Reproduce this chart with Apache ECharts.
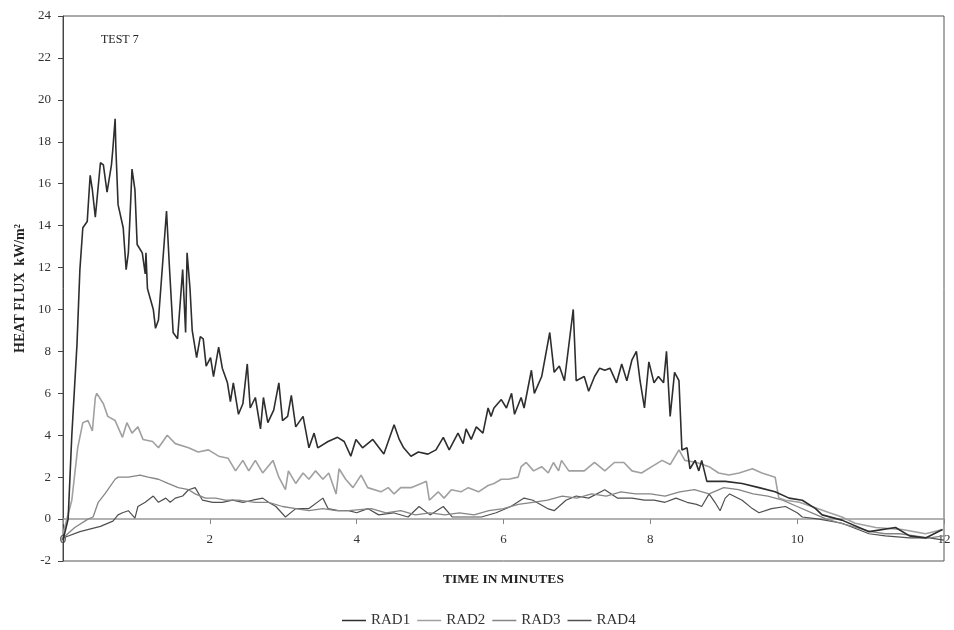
<!DOCTYPE html>
<html>
<head>
<meta charset="utf-8">
<script src="https://cdn.jsdelivr.net/npm/echarts@6/dist/echarts.min.js"></script>
<style>
html,body{margin:0;padding:0;background:#fff;}
#chart{width:954px;height:630px;}
</style>
</head>
<body>
<div id="chart"></div>
<script>
// ---- data (time in minutes, heat flux kW/m2) ----
const seriesNames = ['RAD1', 'RAD2', 'RAD3', 'RAD4'];
const xTicks = [0, 2, 4, 6, 8, 10, 12];
const yTicks = [-2, 0, 2, 4, 6, 8, 10, 12, 14, 16, 18, 20, 22, 24];

const rad1 = [[0,-1],[0.07,0],[0.12,4],[0.19,8.3],[0.23,11.9],[0.27,13.9],[0.33,14.2],[0.37,16.4],[0.40,15.7],[0.44,14.4],[0.51,17.0],[0.55,16.9],[0.60,15.6],[0.66,16.9],[0.68,17.7],[0.71,19.1],[0.72,17.7],[0.75,15.0],[0.82,13.9],[0.86,11.9],[0.89,12.7],[0.92,15.0],[0.94,16.7],[0.98,15.7],[1.01,13.1],[1.08,12.7],[1.12,11.7],[1.13,12.7],[1.15,11.0],[1.19,10.5],[1.23,10.0],[1.26,9.1],[1.30,9.5],[1.37,12.8],[1.41,14.7],[1.45,12.0],[1.50,8.9],[1.56,8.6],[1.63,11.9],[1.67,8.9],[1.69,12.7],[1.73,11.0],[1.76,9.0],[1.82,7.7],[1.87,8.7],[1.91,8.6],[1.95,7.3],[2.01,7.7],[2.05,6.8],[2.12,8.2],[2.17,7.2],[2.24,6.5],[2.28,5.6],[2.32,6.5],[2.39,5.0],[2.45,5.5],[2.51,7.4],[2.55,5.3],[2.62,5.8],[2.69,4.3],[2.73,5.8],[2.79,4.6],[2.87,5.2],[2.94,6.5],[2.99,4.7],[3.06,4.9],[3.11,5.9],[3.17,4.4],[3.27,4.9],[3.35,3.4],[3.42,4.1],[3.47,3.4],[3.61,3.7],[3.74,3.9],[3.83,3.7],[3.92,3.0],[3.99,3.8],[4.08,3.4],[4.22,3.8],[4.37,3.1],[4.51,4.5],[4.58,3.8],[4.64,3.4],[4.74,3.0],[4.84,3.2],[4.97,3.1],[5.08,3.3],[5.18,3.9],[5.26,3.3],[5.38,4.1],[5.45,3.6],[5.49,4.3],[5.56,3.8],[5.63,4.4],[5.72,4.1],[5.79,5.3],[5.83,4.9],[5.87,5.3],[5.97,5.7],[6.04,5.3],[6.11,6.0],[6.15,5.0],[6.24,5.8],[6.28,5.3],[6.38,7.1],[6.42,6.0],[6.52,6.8],[6.63,8.9],[6.69,7.0],[6.76,7.3],[6.83,6.6],[6.95,10.0],[6.99,6.6],[7.10,6.8],[7.16,6.1],[7.24,6.8],[7.31,7.2],[7.38,7.1],[7.45,7.2],[7.54,6.5],[7.61,7.4],[7.68,6.6],[7.75,7.6],[7.81,8.0],[7.86,6.6],[7.92,5.3],[7.98,7.5],[8.05,6.5],[8.11,6.8],[8.18,6.5],[8.22,8.0],[8.27,4.9],[8.33,7.0],[8.39,6.6],[8.43,3.3],[8.50,3.4],[8.54,2.4],[8.61,2.8],[8.66,2.3],[8.70,2.8],[8.77,1.8],[9.02,1.8],[9.25,1.7],[9.48,1.5],[9.70,1.3],[9.89,1.0],[10.07,0.9],[10.25,0.5],[10.34,0.2],[10.61,-0.05],[10.98,-0.6],[11.34,-0.4],[11.53,-0.8],[11.75,-0.9],[11.98,-0.5]];

const rad2 = [[0,-0.7],[0.12,0.9],[0.20,3.4],[0.27,4.6],[0.34,4.7],[0.40,4.2],[0.44,5.8],[0.46,6.0],[0.55,5.5],[0.61,4.9],[0.71,4.7],[0.81,3.9],[0.87,4.6],[0.94,4.1],[1.02,4.4],[1.09,3.8],[1.22,3.7],[1.30,3.4],[1.42,4.0],[1.53,3.6],[1.71,3.4],[1.84,3.2],[1.98,3.3],[2.12,3.0],[2.25,2.9],[2.35,2.3],[2.45,2.8],[2.53,2.3],[2.62,2.8],[2.72,2.2],[2.86,2.8],[2.94,2.0],[3.03,1.4],[3.07,2.3],[3.17,1.7],[3.27,2.2],[3.35,1.9],[3.44,2.3],[3.54,1.9],[3.62,2.2],[3.72,1.2],[3.76,2.4],[3.85,1.9],[3.95,1.5],[4.06,2.1],[4.15,1.5],[4.33,1.3],[4.43,1.5],[4.51,1.2],[4.60,1.5],[4.74,1.5],[4.88,1.7],[4.95,1.8],[4.99,0.9],[5.11,1.3],[5.19,1.0],[5.29,1.4],[5.42,1.3],[5.52,1.5],[5.66,1.3],[5.79,1.6],[5.87,1.7],[5.97,1.9],[6.07,1.9],[6.20,2.0],[6.24,2.5],[6.31,2.7],[6.41,2.3],[6.52,2.5],[6.61,2.2],[6.68,2.7],[6.75,2.3],[6.79,2.8],[6.89,2.3],[7.10,2.3],[7.24,2.7],[7.38,2.3],[7.51,2.7],[7.64,2.7],[7.75,2.3],[7.88,2.2],[8.02,2.5],[8.16,2.8],[8.27,2.6],[8.39,3.3],[8.47,2.8],[8.63,2.7],[8.80,2.5],[8.93,2.2],[9.07,2.1],[9.21,2.2],[9.39,2.4],[9.52,2.2],[9.70,2.0],[9.75,1.0],[9.84,0.9],[10.03,0.8],[10.20,0.6],[10.44,0.3],[10.61,0.1],[10.79,-0.2],[11.07,-0.4],[11.43,-0.5],[11.75,-0.7],[11.98,-0.5]];

const rad3 = [[0,-0.9],[0.16,-0.4],[0.34,0],[0.41,0.1],[0.48,0.8],[0.57,1.2],[0.71,1.9],[0.75,2.0],[0.89,2.0],[1.05,2.1],[1.16,2.0],[1.30,1.9],[1.43,1.7],[1.57,1.5],[1.71,1.4],[1.80,1.2],[1.94,1.0],[2.08,1.0],[2.21,0.9],[2.39,0.9],[2.62,0.8],[2.80,0.8],[2.99,0.6],[3.17,0.5],[3.35,0.4],[3.54,0.5],[3.72,0.4],[3.89,0.4],[4.2,0.5],[4.4,0.3],[4.6,0.4],[4.8,0.2],[5.0,0.3],[5.2,0.2],[5.4,0.3],[5.6,0.2],[5.8,0.4],[6.0,0.5],[6.2,0.7],[6.4,0.8],[6.6,0.9],[6.8,1.1],[7.0,1.0],[7.2,1.2],[7.4,1.1],[7.6,1.3],[7.8,1.2],[8.0,1.2],[8.2,1.1],[8.4,1.3],[8.6,1.4],[8.8,1.2],[9.0,1.5],[9.2,1.4],[9.4,1.2],[9.6,1.1],[9.8,0.9],[10.0,0.6],[10.2,0.3],[10.4,0.0],[10.6,-0.2],[10.8,-0.4],[11.0,-0.6],[11.2,-0.7],[11.4,-0.7],[11.6,-0.8],[11.8,-0.9],[12.0,-0.8]];

const rad4 = [[0,-0.9],[0.23,-0.6],[0.51,-0.35],[0.68,-0.1],[0.75,0.2],[0.81,0.3],[0.89,0.4],[0.98,0.05],[1.02,0.6],[1.12,0.8],[1.23,1.1],[1.30,0.8],[1.40,1.0],[1.46,0.8],[1.53,1.0],[1.63,1.1],[1.71,1.4],[1.80,1.5],[1.90,0.9],[2.04,0.8],[2.17,0.8],[2.31,0.9],[2.45,0.8],[2.58,0.9],[2.72,1.0],[2.80,0.8],[2.90,0.6],[3.03,0.1],[3.17,0.5],[3.35,0.5],[3.54,1.0],[3.61,0.5],[3.75,0.4],[3.89,0.4],[4.0,0.3],[4.15,0.5],[4.3,0.2],[4.5,0.3],[4.7,0.1],[4.85,0.6],[5.0,0.2],[5.18,0.6],[5.3,0.1],[5.5,0.1],[5.7,0.1],[5.9,0.3],[6.1,0.6],[6.28,1.0],[6.4,0.9],[6.6,0.5],[6.69,0.4],[6.85,0.9],[6.99,1.1],[7.16,1.0],[7.38,1.4],[7.55,1.0],[7.75,1.0],[7.92,0.9],[8.05,0.9],[8.2,0.8],[8.35,1.0],[8.5,0.8],[8.63,0.7],[8.7,0.6],[8.8,1.2],[8.88,0.8],[8.95,0.4],[9.02,1.0],[9.08,1.2],[9.25,0.9],[9.39,0.5],[9.48,0.3],[9.65,0.5],[9.84,0.6],[10.0,0.3],[10.07,0.1],[10.3,0.0],[10.61,-0.2],[10.98,-0.7],[11.2,-0.8],[11.53,-0.9],[11.8,-0.9],[12.0,-1.0]];

const seriesData = [rad1, rad2, rad3, rad4];
const seriesColors = ['#2e2e2e', '#a0a0a0', '#858585', '#505050'];
const seriesWidths = [1.6, 1.6, 1.3, 1.2];

const serif = '"Liberation Serif", "DejaVu Serif", serif';

const chart = echarts.init(document.getElementById('chart'), null, {renderer: 'canvas'});
chart.setOption({
  animation: false,
  backgroundColor: '#ffffff',
  grid: {
    left: 63, right: 10, top: 16, bottom: 69,
    show: true, borderColor: '#555', borderWidth: 1, backgroundColor: 'transparent'
  },
  title: {
    text: 'TEST 7', left: 96, top: 29,
    textStyle: {fontFamily: serif, fontSize: 12, fontWeight: 'normal', color: '#222'}
  },
  legend: {
    data: seriesNames, top: 608, left: 337,
    icon: 'rect', itemWidth: 24, itemHeight: 1.5, itemGap: 7, itemTextGap: 3,
    textStyle: {fontFamily: serif, fontSize: 15, color: '#333'}
  },
  xAxis: {
    type: 'value', min: 0, max: 12, interval: 2,
    name: 'TIME IN MINUTES', nameLocation: 'middle', nameGap: 12,
    nameTextStyle: {fontFamily: serif, fontSize: 13.5, fontWeight: 'bold', color: '#222'},
    axisLine: {onZero: true, lineStyle: {color: '#999', width: 1.5}},
    axisTick: {show: true, length: 5, lineStyle: {color: '#888'}},
    axisLabel: {fontFamily: serif, fontSize: 13, color: '#333', margin: -28,
      formatter: function (v) { return xTicks.indexOf(v) >= 0 ? String(v) : ''; }},
    splitLine: {show: false}
  },
  yAxis: {
    type: 'value', min: -2, max: 24, interval: 2,
    name: 'HEAT FLUX  kW/m²', nameLocation: 'middle', nameGap: 31,
    nameTextStyle: {fontFamily: serif, fontSize: 14, fontWeight: 'bold', color: '#222'},
    axisLine: {show: true, onZero: false, lineStyle: {color: '#444', width: 1}},
    axisTick: {show: true, length: 5, lineStyle: {color: '#444'}},
    axisLabel: {fontFamily: serif, fontSize: 13, color: '#333', margin: 12,
      formatter: function (v) { return yTicks.indexOf(v) >= 0 ? String(v) : ''; }},
    splitLine: {show: false}
  },
  series: seriesNames.map(function (n, i) {
    return {
      name: n, type: 'line', data: seriesData[i],
      symbol: 'none', smooth: false,
      lineStyle: {color: seriesColors[i], width: seriesWidths[i]},
      itemStyle: {color: seriesColors[i]},
      z: 10 - i
    };
  })
});
</script>
</body>
</html>
